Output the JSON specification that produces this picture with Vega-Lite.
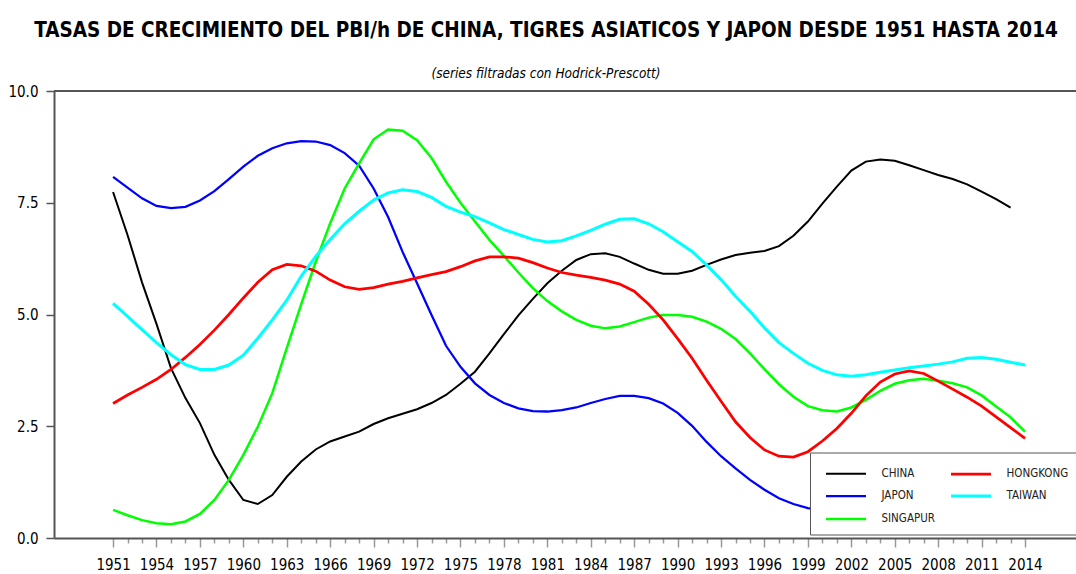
{
  "$schema": "https://vega.github.io/schema/vega-lite/v6.json",
  "width": 1022,
  "height": 447,
  "autosize": {"type": "none"},
  "padding": {"left": 54, "top": 91, "right": 0, "bottom": 36},
  "background": "white",
  "config": {"view": {"stroke": null}},
  "title": {
    "text": "TASAS DE CRECIMIENTO DEL PBI/h DE CHINA, TIGRES ASIATICOS Y JAPON DESDE 1951 HASTA 2014",
    "subtitle": "(series filtradas con Hodrick-Prescott)",
    "anchor": "middle",
    "dx": -19,
    "offset": 4,
    "font": "DejaVu Sans Condensed",
    "fontSize": 20.5,
    "fontWeight": "bold",
    "color": "black",
    "subtitleFont": "DejaVu Sans Condensed",
    "subtitleFontSize": 13.5,
    "subtitleFontStyle": "italic",
    "subtitleColor": "black",
    "subtitlePadding": 25
  },
  "datasets": {
    "series": [
      {"anio":1951,"pais":"CHINA","tasa":7.74},{"anio":1952,"pais":"CHINA","tasa":6.78},{"anio":1953,"pais":"CHINA","tasa":5.72},{"anio":1954,"pais":"CHINA","tasa":4.79},{"anio":1955,"pais":"CHINA","tasa":3.8},{"anio":1956,"pais":"CHINA","tasa":3.13},{"anio":1957,"pais":"CHINA","tasa":2.57},{"anio":1958,"pais":"CHINA","tasa":1.86},{"anio":1959,"pais":"CHINA","tasa":1.3},{"anio":1960,"pais":"CHINA","tasa":0.85},{"anio":1961,"pais":"CHINA","tasa":0.76},{"anio":1962,"pais":"CHINA","tasa":0.96},{"anio":1963,"pais":"CHINA","tasa":1.37},{"anio":1964,"pais":"CHINA","tasa":1.71},{"anio":1965,"pais":"CHINA","tasa":1.98},{"anio":1966,"pais":"CHINA","tasa":2.16},{"anio":1967,"pais":"CHINA","tasa":2.27},{"anio":1968,"pais":"CHINA","tasa":2.38},{"anio":1969,"pais":"CHINA","tasa":2.55},{"anio":1970,"pais":"CHINA","tasa":2.68},{"anio":1971,"pais":"CHINA","tasa":2.78},{"anio":1972,"pais":"CHINA","tasa":2.88},{"anio":1973,"pais":"CHINA","tasa":3.02},{"anio":1974,"pais":"CHINA","tasa":3.2},{"anio":1975,"pais":"CHINA","tasa":3.45},{"anio":1976,"pais":"CHINA","tasa":3.72},{"anio":1977,"pais":"CHINA","tasa":4.13},{"anio":1978,"pais":"CHINA","tasa":4.56},{"anio":1979,"pais":"CHINA","tasa":4.98},{"anio":1980,"pais":"CHINA","tasa":5.35},{"anio":1981,"pais":"CHINA","tasa":5.7},{"anio":1982,"pais":"CHINA","tasa":5.98},{"anio":1983,"pais":"CHINA","tasa":6.22},{"anio":1984,"pais":"CHINA","tasa":6.35},{"anio":1985,"pais":"CHINA","tasa":6.37},{"anio":1986,"pais":"CHINA","tasa":6.29},{"anio":1987,"pais":"CHINA","tasa":6.14},{"anio":1988,"pais":"CHINA","tasa":6.0},{"anio":1989,"pais":"CHINA","tasa":5.91},{"anio":1990,"pais":"CHINA","tasa":5.91},{"anio":1991,"pais":"CHINA","tasa":5.98},{"anio":1992,"pais":"CHINA","tasa":6.11},{"anio":1993,"pais":"CHINA","tasa":6.23},{"anio":1994,"pais":"CHINA","tasa":6.33},{"anio":1995,"pais":"CHINA","tasa":6.38},{"anio":1996,"pais":"CHINA","tasa":6.42},{"anio":1997,"pais":"CHINA","tasa":6.53},{"anio":1998,"pais":"CHINA","tasa":6.76},{"anio":1999,"pais":"CHINA","tasa":7.08},{"anio":2000,"pais":"CHINA","tasa":7.48},{"anio":2001,"pais":"CHINA","tasa":7.86},{"anio":2002,"pais":"CHINA","tasa":8.22},{"anio":2003,"pais":"CHINA","tasa":8.42},{"anio":2004,"pais":"CHINA","tasa":8.47},{"anio":2005,"pais":"CHINA","tasa":8.44},{"anio":2006,"pais":"CHINA","tasa":8.34},{"anio":2007,"pais":"CHINA","tasa":8.23},{"anio":2008,"pais":"CHINA","tasa":8.12},{"anio":2009,"pais":"CHINA","tasa":8.03},{"anio":2010,"pais":"CHINA","tasa":7.91},{"anio":2011,"pais":"CHINA","tasa":7.75},{"anio":2012,"pais":"CHINA","tasa":7.58},{"anio":2013,"pais":"CHINA","tasa":7.39},

      {"anio":1951,"pais":"JAPON","tasa":8.08},{"anio":1952,"pais":"JAPON","tasa":7.84},{"anio":1953,"pais":"JAPON","tasa":7.6},{"anio":1954,"pais":"JAPON","tasa":7.43},{"anio":1955,"pais":"JAPON","tasa":7.38},{"anio":1956,"pais":"JAPON","tasa":7.41},{"anio":1957,"pais":"JAPON","tasa":7.55},{"anio":1958,"pais":"JAPON","tasa":7.76},{"anio":1959,"pais":"JAPON","tasa":8.03},{"anio":1960,"pais":"JAPON","tasa":8.31},{"anio":1961,"pais":"JAPON","tasa":8.55},{"anio":1962,"pais":"JAPON","tasa":8.72},{"anio":1963,"pais":"JAPON","tasa":8.83},{"anio":1964,"pais":"JAPON","tasa":8.88},{"anio":1965,"pais":"JAPON","tasa":8.87},{"anio":1966,"pais":"JAPON","tasa":8.79},{"anio":1967,"pais":"JAPON","tasa":8.61},{"anio":1968,"pais":"JAPON","tasa":8.33},{"anio":1969,"pais":"JAPON","tasa":7.82},{"anio":1970,"pais":"JAPON","tasa":7.18},{"anio":1971,"pais":"JAPON","tasa":6.4},{"anio":1972,"pais":"JAPON","tasa":5.7},{"anio":1973,"pais":"JAPON","tasa":4.99},{"anio":1974,"pais":"JAPON","tasa":4.3},{"anio":1975,"pais":"JAPON","tasa":3.83},{"anio":1976,"pais":"JAPON","tasa":3.46},{"anio":1977,"pais":"JAPON","tasa":3.2},{"anio":1978,"pais":"JAPON","tasa":3.02},{"anio":1979,"pais":"JAPON","tasa":2.9},{"anio":1980,"pais":"JAPON","tasa":2.84},{"anio":1981,"pais":"JAPON","tasa":2.83},{"anio":1982,"pais":"JAPON","tasa":2.86},{"anio":1983,"pais":"JAPON","tasa":2.92},{"anio":1984,"pais":"JAPON","tasa":3.02},{"anio":1985,"pais":"JAPON","tasa":3.11},{"anio":1986,"pais":"JAPON","tasa":3.18},{"anio":1987,"pais":"JAPON","tasa":3.18},{"anio":1988,"pais":"JAPON","tasa":3.13},{"anio":1989,"pais":"JAPON","tasa":3.01},{"anio":1990,"pais":"JAPON","tasa":2.8},{"anio":1991,"pais":"JAPON","tasa":2.51},{"anio":1992,"pais":"JAPON","tasa":2.15},{"anio":1993,"pais":"JAPON","tasa":1.83},{"anio":1994,"pais":"JAPON","tasa":1.56},{"anio":1995,"pais":"JAPON","tasa":1.3},{"anio":1996,"pais":"JAPON","tasa":1.08},{"anio":1997,"pais":"JAPON","tasa":0.89},{"anio":1998,"pais":"JAPON","tasa":0.76},{"anio":1999,"pais":"JAPON","tasa":0.67},{"anio":2000,"pais":"JAPON","tasa":0.62},{"anio":2001,"pais":"JAPON","tasa":0.6},{"anio":2002,"pais":"JAPON","tasa":0.61},{"anio":2003,"pais":"JAPON","tasa":0.64},{"anio":2004,"pais":"JAPON","tasa":0.68},{"anio":2005,"pais":"JAPON","tasa":0.72},{"anio":2006,"pais":"JAPON","tasa":0.74},{"anio":2007,"pais":"JAPON","tasa":0.74},{"anio":2008,"pais":"JAPON","tasa":0.72},{"anio":2009,"pais":"JAPON","tasa":0.68},{"anio":2010,"pais":"JAPON","tasa":0.64},{"anio":2011,"pais":"JAPON","tasa":0.6},{"anio":2012,"pais":"JAPON","tasa":0.57},{"anio":2013,"pais":"JAPON","tasa":0.55},{"anio":2014,"pais":"JAPON","tasa":0.54},

      {"anio":1951,"pais":"SINGAPUR","tasa":0.63},{"anio":1952,"pais":"SINGAPUR","tasa":0.51},{"anio":1953,"pais":"SINGAPUR","tasa":0.4},{"anio":1954,"pais":"SINGAPUR","tasa":0.33},{"anio":1955,"pais":"SINGAPUR","tasa":0.31},{"anio":1956,"pais":"SINGAPUR","tasa":0.37},{"anio":1957,"pais":"SINGAPUR","tasa":0.54},{"anio":1958,"pais":"SINGAPUR","tasa":0.85},{"anio":1959,"pais":"SINGAPUR","tasa":1.3},{"anio":1960,"pais":"SINGAPUR","tasa":1.86},{"anio":1961,"pais":"SINGAPUR","tasa":2.49},{"anio":1962,"pais":"SINGAPUR","tasa":3.24},{"anio":1963,"pais":"SINGAPUR","tasa":4.25},{"anio":1964,"pais":"SINGAPUR","tasa":5.23},{"anio":1965,"pais":"SINGAPUR","tasa":6.18},{"anio":1966,"pais":"SINGAPUR","tasa":7.04},{"anio":1967,"pais":"SINGAPUR","tasa":7.82},{"anio":1968,"pais":"SINGAPUR","tasa":8.38},{"anio":1969,"pais":"SINGAPUR","tasa":8.92},{"anio":1970,"pais":"SINGAPUR","tasa":9.14},{"anio":1971,"pais":"SINGAPUR","tasa":9.11},{"anio":1972,"pais":"SINGAPUR","tasa":8.9},{"anio":1973,"pais":"SINGAPUR","tasa":8.5},{"anio":1974,"pais":"SINGAPUR","tasa":7.97},{"anio":1975,"pais":"SINGAPUR","tasa":7.5},{"anio":1976,"pais":"SINGAPUR","tasa":7.08},{"anio":1977,"pais":"SINGAPUR","tasa":6.67},{"anio":1978,"pais":"SINGAPUR","tasa":6.31},{"anio":1979,"pais":"SINGAPUR","tasa":5.94},{"anio":1980,"pais":"SINGAPUR","tasa":5.59},{"anio":1981,"pais":"SINGAPUR","tasa":5.3},{"anio":1982,"pais":"SINGAPUR","tasa":5.07},{"anio":1983,"pais":"SINGAPUR","tasa":4.88},{"anio":1984,"pais":"SINGAPUR","tasa":4.75},{"anio":1985,"pais":"SINGAPUR","tasa":4.69},{"anio":1986,"pais":"SINGAPUR","tasa":4.73},{"anio":1987,"pais":"SINGAPUR","tasa":4.83},{"anio":1988,"pais":"SINGAPUR","tasa":4.93},{"anio":1989,"pais":"SINGAPUR","tasa":4.99},{"anio":1990,"pais":"SINGAPUR","tasa":4.99},{"anio":1991,"pais":"SINGAPUR","tasa":4.95},{"anio":1992,"pais":"SINGAPUR","tasa":4.84},{"anio":1993,"pais":"SINGAPUR","tasa":4.68},{"anio":1994,"pais":"SINGAPUR","tasa":4.45},{"anio":1995,"pais":"SINGAPUR","tasa":4.13},{"anio":1996,"pais":"SINGAPUR","tasa":3.78},{"anio":1997,"pais":"SINGAPUR","tasa":3.44},{"anio":1998,"pais":"SINGAPUR","tasa":3.16},{"anio":1999,"pais":"SINGAPUR","tasa":2.95},{"anio":2000,"pais":"SINGAPUR","tasa":2.86},{"anio":2001,"pais":"SINGAPUR","tasa":2.83},{"anio":2002,"pais":"SINGAPUR","tasa":2.92},{"anio":2003,"pais":"SINGAPUR","tasa":3.09},{"anio":2004,"pais":"SINGAPUR","tasa":3.29},{"anio":2005,"pais":"SINGAPUR","tasa":3.45},{"anio":2006,"pais":"SINGAPUR","tasa":3.53},{"anio":2007,"pais":"SINGAPUR","tasa":3.56},{"anio":2008,"pais":"SINGAPUR","tasa":3.52},{"anio":2009,"pais":"SINGAPUR","tasa":3.46},{"anio":2010,"pais":"SINGAPUR","tasa":3.37},{"anio":2011,"pais":"SINGAPUR","tasa":3.19},{"anio":2012,"pais":"SINGAPUR","tasa":2.94},{"anio":2013,"pais":"SINGAPUR","tasa":2.7},{"anio":2014,"pais":"SINGAPUR","tasa":2.38},

      {"anio":1951,"pais":"HONGKONG","tasa":3.01},{"anio":1952,"pais":"HONGKONG","tasa":3.2},{"anio":1953,"pais":"HONGKONG","tasa":3.37},{"anio":1954,"pais":"HONGKONG","tasa":3.55},{"anio":1955,"pais":"HONGKONG","tasa":3.77},{"anio":1956,"pais":"HONGKONG","tasa":4.04},{"anio":1957,"pais":"HONGKONG","tasa":4.33},{"anio":1958,"pais":"HONGKONG","tasa":4.65},{"anio":1959,"pais":"HONGKONG","tasa":5.0},{"anio":1960,"pais":"HONGKONG","tasa":5.37},{"anio":1961,"pais":"HONGKONG","tasa":5.72},{"anio":1962,"pais":"HONGKONG","tasa":6.0},{"anio":1963,"pais":"HONGKONG","tasa":6.12},{"anio":1964,"pais":"HONGKONG","tasa":6.09},{"anio":1965,"pais":"HONGKONG","tasa":5.97},{"anio":1966,"pais":"HONGKONG","tasa":5.77},{"anio":1967,"pais":"HONGKONG","tasa":5.62},{"anio":1968,"pais":"HONGKONG","tasa":5.56},{"anio":1969,"pais":"HONGKONG","tasa":5.6},{"anio":1970,"pais":"HONGKONG","tasa":5.68},{"anio":1971,"pais":"HONGKONG","tasa":5.74},{"anio":1972,"pais":"HONGKONG","tasa":5.82},{"anio":1973,"pais":"HONGKONG","tasa":5.89},{"anio":1974,"pais":"HONGKONG","tasa":5.96},{"anio":1975,"pais":"HONGKONG","tasa":6.07},{"anio":1976,"pais":"HONGKONG","tasa":6.2},{"anio":1977,"pais":"HONGKONG","tasa":6.29},{"anio":1978,"pais":"HONGKONG","tasa":6.29},{"anio":1979,"pais":"HONGKONG","tasa":6.26},{"anio":1980,"pais":"HONGKONG","tasa":6.16},{"anio":1981,"pais":"HONGKONG","tasa":6.04},{"anio":1982,"pais":"HONGKONG","tasa":5.94},{"anio":1983,"pais":"HONGKONG","tasa":5.88},{"anio":1984,"pais":"HONGKONG","tasa":5.83},{"anio":1985,"pais":"HONGKONG","tasa":5.77},{"anio":1986,"pais":"HONGKONG","tasa":5.68},{"anio":1987,"pais":"HONGKONG","tasa":5.52},{"anio":1988,"pais":"HONGKONG","tasa":5.23},{"anio":1989,"pais":"HONGKONG","tasa":4.88},{"anio":1990,"pais":"HONGKONG","tasa":4.46},{"anio":1991,"pais":"HONGKONG","tasa":4.02},{"anio":1992,"pais":"HONGKONG","tasa":3.53},{"anio":1993,"pais":"HONGKONG","tasa":3.06},{"anio":1994,"pais":"HONGKONG","tasa":2.6},{"anio":1995,"pais":"HONGKONG","tasa":2.25},{"anio":1996,"pais":"HONGKONG","tasa":1.97},{"anio":1997,"pais":"HONGKONG","tasa":1.83},{"anio":1998,"pais":"HONGKONG","tasa":1.81},{"anio":1999,"pais":"HONGKONG","tasa":1.93},{"anio":2000,"pais":"HONGKONG","tasa":2.17},{"anio":2001,"pais":"HONGKONG","tasa":2.45},{"anio":2002,"pais":"HONGKONG","tasa":2.79},{"anio":2003,"pais":"HONGKONG","tasa":3.18},{"anio":2004,"pais":"HONGKONG","tasa":3.49},{"anio":2005,"pais":"HONGKONG","tasa":3.67},{"anio":2006,"pais":"HONGKONG","tasa":3.74},{"anio":2007,"pais":"HONGKONG","tasa":3.68},{"anio":2008,"pais":"HONGKONG","tasa":3.51},{"anio":2009,"pais":"HONGKONG","tasa":3.33},{"anio":2010,"pais":"HONGKONG","tasa":3.15},{"anio":2011,"pais":"HONGKONG","tasa":2.95},{"anio":2012,"pais":"HONGKONG","tasa":2.71},{"anio":2013,"pais":"HONGKONG","tasa":2.47},{"anio":2014,"pais":"HONGKONG","tasa":2.23},

      {"anio":1951,"pais":"TAIWAN","tasa":5.25},{"anio":1952,"pais":"TAIWAN","tasa":4.96},{"anio":1953,"pais":"TAIWAN","tasa":4.66},{"anio":1954,"pais":"TAIWAN","tasa":4.37},{"anio":1955,"pais":"TAIWAN","tasa":4.1},{"anio":1956,"pais":"TAIWAN","tasa":3.88},{"anio":1957,"pais":"TAIWAN","tasa":3.77},{"anio":1958,"pais":"TAIWAN","tasa":3.77},{"anio":1959,"pais":"TAIWAN","tasa":3.87},{"anio":1960,"pais":"TAIWAN","tasa":4.09},{"anio":1961,"pais":"TAIWAN","tasa":4.47},{"anio":1962,"pais":"TAIWAN","tasa":4.88},{"anio":1963,"pais":"TAIWAN","tasa":5.32},{"anio":1964,"pais":"TAIWAN","tasa":5.86},{"anio":1965,"pais":"TAIWAN","tasa":6.3},{"anio":1966,"pais":"TAIWAN","tasa":6.68},{"anio":1967,"pais":"TAIWAN","tasa":7.03},{"anio":1968,"pais":"TAIWAN","tasa":7.31},{"anio":1969,"pais":"TAIWAN","tasa":7.56},{"anio":1970,"pais":"TAIWAN","tasa":7.72},{"anio":1971,"pais":"TAIWAN","tasa":7.79},{"anio":1972,"pais":"TAIWAN","tasa":7.75},{"anio":1973,"pais":"TAIWAN","tasa":7.62},{"anio":1974,"pais":"TAIWAN","tasa":7.42},{"anio":1975,"pais":"TAIWAN","tasa":7.29},{"anio":1976,"pais":"TAIWAN","tasa":7.19},{"anio":1977,"pais":"TAIWAN","tasa":7.05},{"anio":1978,"pais":"TAIWAN","tasa":6.9},{"anio":1979,"pais":"TAIWAN","tasa":6.79},{"anio":1980,"pais":"TAIWAN","tasa":6.68},{"anio":1981,"pais":"TAIWAN","tasa":6.62},{"anio":1982,"pais":"TAIWAN","tasa":6.65},{"anio":1983,"pais":"TAIWAN","tasa":6.76},{"anio":1984,"pais":"TAIWAN","tasa":6.88},{"anio":1985,"pais":"TAIWAN","tasa":7.02},{"anio":1986,"pais":"TAIWAN","tasa":7.13},{"anio":1987,"pais":"TAIWAN","tasa":7.14},{"anio":1988,"pais":"TAIWAN","tasa":7.03},{"anio":1989,"pais":"TAIWAN","tasa":6.85},{"anio":1990,"pais":"TAIWAN","tasa":6.63},{"anio":1991,"pais":"TAIWAN","tasa":6.41},{"anio":1992,"pais":"TAIWAN","tasa":6.11},{"anio":1993,"pais":"TAIWAN","tasa":5.78},{"anio":1994,"pais":"TAIWAN","tasa":5.41},{"anio":1995,"pais":"TAIWAN","tasa":5.07},{"anio":1996,"pais":"TAIWAN","tasa":4.7},{"anio":1997,"pais":"TAIWAN","tasa":4.37},{"anio":1998,"pais":"TAIWAN","tasa":4.13},{"anio":1999,"pais":"TAIWAN","tasa":3.91},{"anio":2000,"pais":"TAIWAN","tasa":3.75},{"anio":2001,"pais":"TAIWAN","tasa":3.65},{"anio":2002,"pais":"TAIWAN","tasa":3.62},{"anio":2003,"pais":"TAIWAN","tasa":3.65},{"anio":2004,"pais":"TAIWAN","tasa":3.71},{"anio":2005,"pais":"TAIWAN","tasa":3.76},{"anio":2006,"pais":"TAIWAN","tasa":3.81},{"anio":2007,"pais":"TAIWAN","tasa":3.85},{"anio":2008,"pais":"TAIWAN","tasa":3.89},{"anio":2009,"pais":"TAIWAN","tasa":3.94},{"anio":2010,"pais":"TAIWAN","tasa":4.02},{"anio":2011,"pais":"TAIWAN","tasa":4.04},{"anio":2012,"pais":"TAIWAN","tasa":4.0},{"anio":2013,"pais":"TAIWAN","tasa":3.93},{"anio":2014,"pais":"TAIWAN","tasa":3.87}
    ]
  },
  "layer": [
    {
      "data": {"values": [{}]},
      "mark": {"type": "rule", "color": "#555555", "strokeWidth": 2},
      "encoding": {"y": {"datum": 10}}
    },
    {
      "data": {"name": "series"},
      "mark": {"type": "line", "interpolate": "linear"},
      "encoding": {
        "x": {
          "field": "anio",
          "type": "quantitative",
          "scale": {"domain": [1946.92, 2017.52], "nice": false, "zero": false},
          "axis": {
            "title": null,
            "values": [1951,1952,1953,1954,1955,1956,1957,1958,1959,1960,1961,1962,1963,1964,1965,1966,1967,1968,1969,1970,1971,1972,1973,1974,1975,1976,1977,1978,1979,1980,1981,1982,1983,1984,1985,1986,1987,1988,1989,1990,1991,1992,1993,1994,1995,1996,1997,1998,1999,2000,2001,2002,2003,2004,2005,2006,2007,2008,2009,2010,2011,2012,2013,2014],
            "format": "d",
            "labelExpr": "(datum.value - 1951) % 3 == 0 ? datum.label : ''",
            "labelOverlap": false,
            "labelFlush": false,
            "grid": false,
            "domainColor": "#555555",
            "domainWidth": 2,
            "tickColor": "#999999",
            "tickWidth": 1.5,
            "tickSize": {"condition": {"test": "(datum.value - 1951) % 3 == 0", "value": 9}, "value": 5},
            "labelPadding": 10,
            "labelFont": "DejaVu Sans Condensed",
            "labelFontSize": 15,
            "labelColor": "black"
          }
        },
        "y": {
          "field": "tasa",
          "type": "quantitative",
          "scale": {"domain": [0, 10], "nice": false},
          "axis": {
            "title": null,
            "values": [0, 2.5, 5, 7.5, 10],
            "format": ".1f",
            "grid": false,
            "domainColor": "#555555",
            "domainWidth": 2,
            "tickColor": "#555555",
            "tickWidth": 1.5,
            "tickSize": 8,
            "labelPadding": 8,
            "labelFont": "DejaVu Sans Condensed",
            "labelFontSize": 15,
            "labelColor": "black"
          }
        },
        "color": {
          "field": "pais",
          "type": "nominal",
          "scale": {
            "domain": ["CHINA", "JAPON", "SINGAPUR", "HONGKONG", "TAIWAN"],
            "range": ["#000000", "#0000ff", "#00ff00", "#ff0000", "#00ffff"]
          },
          "legend": {
            "title": null,
            "orient": "none",
            "legendX": 756,
            "legendY": 361.5,
            "columns": 2,
            "fillColor": "white",
            "strokeColor": "#555555",
            "padding": 10,
            "symbolType": "M-2,0L2,0",
            "symbolSize": 400,
            "symbolStrokeWidth": 3,
            "symbolOffset": 14.5,
            "labelOffset": 24,
            "rowPadding": 5,
            "columnPadding": 10,
            "labelFont": "DejaVu Sans Condensed",
            "labelFontSize": 11.5,
            "labelColor": "#222222"
          }
        },
        "strokeWidth": {
          "field": "pais",
          "type": "nominal",
          "scale": {
            "domain": ["CHINA", "JAPON", "SINGAPUR", "HONGKONG", "TAIWAN"],
            "range": [2, 3, 2.5, 2.5, 3]
          },
          "legend": null
        }
      }
    }
  ]
}
